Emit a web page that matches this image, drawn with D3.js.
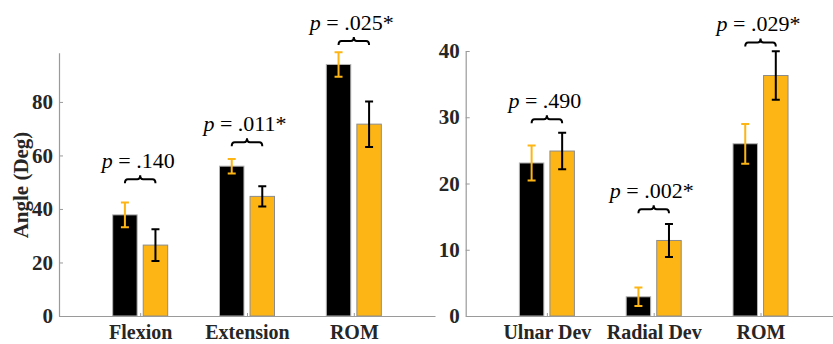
<!DOCTYPE html>
<html>
<head>
<meta charset="utf-8">
<script src="https://cdn.jsdelivr.net/npm/d3@7"></script>
<style>
  body { margin: 0; background: #fff; }
  svg { display: block; }
  svg text { font-family: "Liberation Serif", "Times New Roman", serif; }
</style>
</head>
<body>
<svg width="833" height="344"></svg>
<script>
// left panel: flexion / extension
const leftCats = ["Flexion", "Extension", "ROM"];
const leftBlack = [37.8, 56.0, 94.0];
const leftBlackErr = [4.6, 2.7, 4.6];
const leftGold = [26.5, 44.7, 71.7];
const leftGoldErr = [5.9, 3.8, 8.5];
const leftP = [".140", ".011*", ".025*"];
const leftBrace = [51.1, 64.9, 102.8];
const leftTicks = [0, 20, 40, 60, 80];

// right panel: deviation
const rightCats = ["Ulnar Dev", "Radial Dev", "ROM"];
const rightBlack = [23.1, 2.9, 26.0];
const rightBlackErr = [2.65, 1.4, 3.0];
const rightGold = [24.9, 11.4, 36.3];
const rightGoldErr = [2.75, 2.5, 3.65];
const rightP = [".490", ".002*", ".029*"];
const rightBrace = [29.7, 16.1, 41.3];
const rightTicks = [0, 10, 20, 30, 40];

const gold = "#FDB515";
const axisGray = "#9a9a9a";
const labelColor = "#262626";
const serif = "Liberation Serif";

const svg = d3.select("svg");

function drawPanel(opt) {
    const x = d3.scaleLinear().domain([0.24, 3.76]).range([opt.left, opt.left + 376]);
    const y = d3.scaleLinear().domain([0, opt.ymax]).range([316, opt.top]);
    const g = svg.append("g");
    const off = 0.143, bw = 0.229;

    const rows = opt.cats.map((c, i) => ({
        i: i + 1, cat: c,
        b: opt.black[i], be: opt.blackErr[i],
        o: opt.gold[i], oe: opt.goldErr[i],
        p: opt.p[i], brace: opt.brace[i]
    }));

    // bars
    const bars = [];
    rows.forEach(r => {
        bars.push({pos: r.i - off, v: r.b, e: r.be, fill: "#000", edge: "#b5b5b5", err: gold});
        bars.push({pos: r.i + off, v: r.o, e: r.oe, fill: gold, edge: "#8c8c8c", err: "#000"});
    });
    g.selectAll("rect.bar").data(bars).enter().append("rect")
        .attr("class", "bar")
        .attr("x", d => x(d.pos - bw / 2))
        .attr("width", d => x(d.pos + bw / 2) - x(d.pos - bw / 2))
        .attr("y", d => y(d.v))
        .attr("height", d => y(0) - y(d.v))
        .attr("fill", d => d.fill)
        .attr("stroke", d => d.edge)
        .attr("stroke-width", 1);

    // error bars
    const eg = g.selectAll("g.err").data(bars).enter().append("g")
        .attr("stroke", d => d.err)
        .attr("stroke-width", 2)
        .attr("fill", "none");
    eg.append("path").attr("d", d => {
        const cx = x(d.pos), y1 = y(d.v + d.e), y2 = y(d.v - d.e);
        const p = d3.path();
        p.moveTo(cx, y1); p.lineTo(cx, y2);
        p.moveTo(cx - 4, y1); p.lineTo(cx + 4, y1);
        p.moveTo(cx - 4, y2); p.lineTo(cx + 4, y2);
        return p.toString();
    });

    // axes
    const ya = d3.axisLeft(y).tickValues(opt.ticks).tickSizeInner(-4).tickSizeOuter(0).tickPadding(6);
    const yg = g.append("g").attr("transform", `translate(${opt.left},0)`).call(ya);
    const xa = d3.axisBottom(x).tickValues([1, 2, 3]).tickFormat(d => opt.cats[d - 1])
        .tickSizeInner(-3).tickSizeOuter(0).tickPadding(9);
    const xg = g.append("g").attr("transform", `translate(0,${y(0)})`).call(xa);
    [yg, xg].forEach(a => {
        a.attr("font-family", serif);
        a.select(".domain").attr("stroke", axisGray).attr("stroke-width", 1.2);
        a.selectAll(".tick line").attr("stroke", axisGray);
        a.selectAll(".tick text").attr("fill", labelColor)
            .attr("font-family", serif)
            .attr("font-weight", "bold").attr("font-size", 21);
    });
    xg.selectAll(".tick text").attr("font-size", 20);

    // braces and p values
    rows.forEach(r => {
        const x1 = x(r.i - off), x2 = x(r.i + off), xc = x(r.i), by = y(r.brace);
        const p = d3.path();
        p.moveTo(x1, by + 4);
        p.quadraticCurveTo(x1, by, x1 + 3, by);
        p.lineTo(xc - 3, by);
        p.quadraticCurveTo(xc, by, xc, by - 4);
        p.quadraticCurveTo(xc, by, xc + 3, by);
        p.lineTo(x2 - 3, by);
        p.quadraticCurveTo(x2, by, x2, by + 4);
        g.append("path").attr("d", p.toString())
            .attr("fill", "none").attr("stroke", "#000").attr("stroke-width", 2);
        const t = g.append("text")
            .attr("x", xc - 2).attr("y", by - 11)
            .attr("text-anchor", "middle")
            .attr("font-family", serif)
            .attr("font-size", 22).attr("fill", "#000");
        t.append("tspan").attr("font-style", "italic").text("p");
        t.append("tspan").text(" = " + r.p);
    });
}

drawPanel({left: 59, top: 52.7, ymax: 98.4, ticks: leftTicks, cats: leftCats,
    black: leftBlack, blackErr: leftBlackErr, gold: leftGold, goldErr: leftGoldErr,
    p: leftP, brace: leftBrace});
drawPanel({left: 465.7, top: 51, ymax: 40, ticks: rightTicks, cats: rightCats,
    black: rightBlack, blackErr: rightBlackErr, gold: rightGold, goldErr: rightGoldErr,
    p: rightP, brace: rightBrace});

svg.append("text")
    .attr("transform", "translate(28,185) rotate(-90)")
    .attr("text-anchor", "middle")
    .attr("font-family", serif)
    .attr("font-weight", "bold").attr("font-size", 21)
    .attr("fill", labelColor)
    .text("Angle (Deg)");
</script>
</body>
</html>
